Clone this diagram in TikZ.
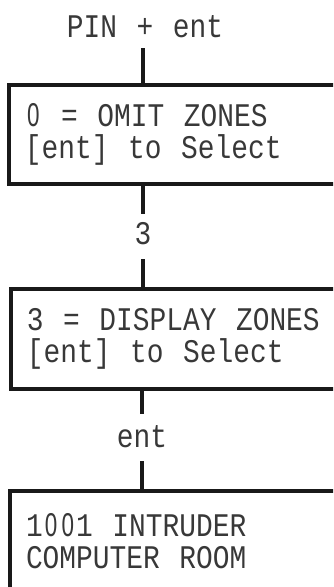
\documentclass[tikz,border=0pt]{standalone}
\usepackage{fontspec}
\newfontfamily\lcd[FakeStretch=0.845]{Liberation Mono}
\newfontfamily\zerofont[FakeStretch=0.68]{Liberation Sans}
\newlength\digw
\newcommand\zd{\settowidth\digw{1}\makebox[\digw]{\zerofont 0}}
\newcommand\lcdsize{\lcd\fontsize{33}{32}\selectfont
  \fontdimen2\font=19.5pt\fontdimen3\font=0pt\fontdimen4\font=0pt\relax}
\begin{document}
\begin{tikzpicture}[x=1pt,y=-1pt,
  lcdtext/.style={font=\lcdsize, text=black!78},
  box/.style={draw=black!90, line width=4pt, anchor=north west, outer sep=0pt,
    minimum width=345pt, text width=313pt, inner xsep=16pt, inner ysep=0pt,
    align=flush left, lcdtext},
  conn/.style={draw=black!90, line width=4pt},
  lbl/.style={lcdtext, inner sep=0pt}]
\useasboundingbox (0,0) rectangle (333,587);
\clip (0,0) rectangle (333,587);
\node[lbl] (pin) at (145,27) {PIN + ent};
\node[box, minimum height=99pt] (b1) at (9,85) {\zd{} = OMIT ZONES\\{[}ent] to Select};
\node[lbl] (k3) at (143,234) {3};
\node[box, minimum height=100pt] (b2) at (11,289) {3 = DISPLAY ZONES\\{[}ent] to Select};
\node[lbl] (ke) at (142,437) {ent};
\node[box, minimum height=100pt] (b3) at (10,491) {1\zd\zd1 INTRUDER\\COMPUTER ROOM};
\draw[conn, shorten <=10pt] (pin.south -| 143,0) -- (b1.north -| 143,0);
\draw[conn, shorten >=9pt] (b1.south -| k3) -- (k3.north);
\draw[conn, shorten <=14pt] (k3.south) -- (k3.south |- b2.north);
\draw[conn, shorten >=12pt] (b2.south -| ke) -- (ke.north);
\draw[conn, shorten <=13pt] (ke.south) -- (ke.south |- b3.north);
\end{tikzpicture}
\end{document}
